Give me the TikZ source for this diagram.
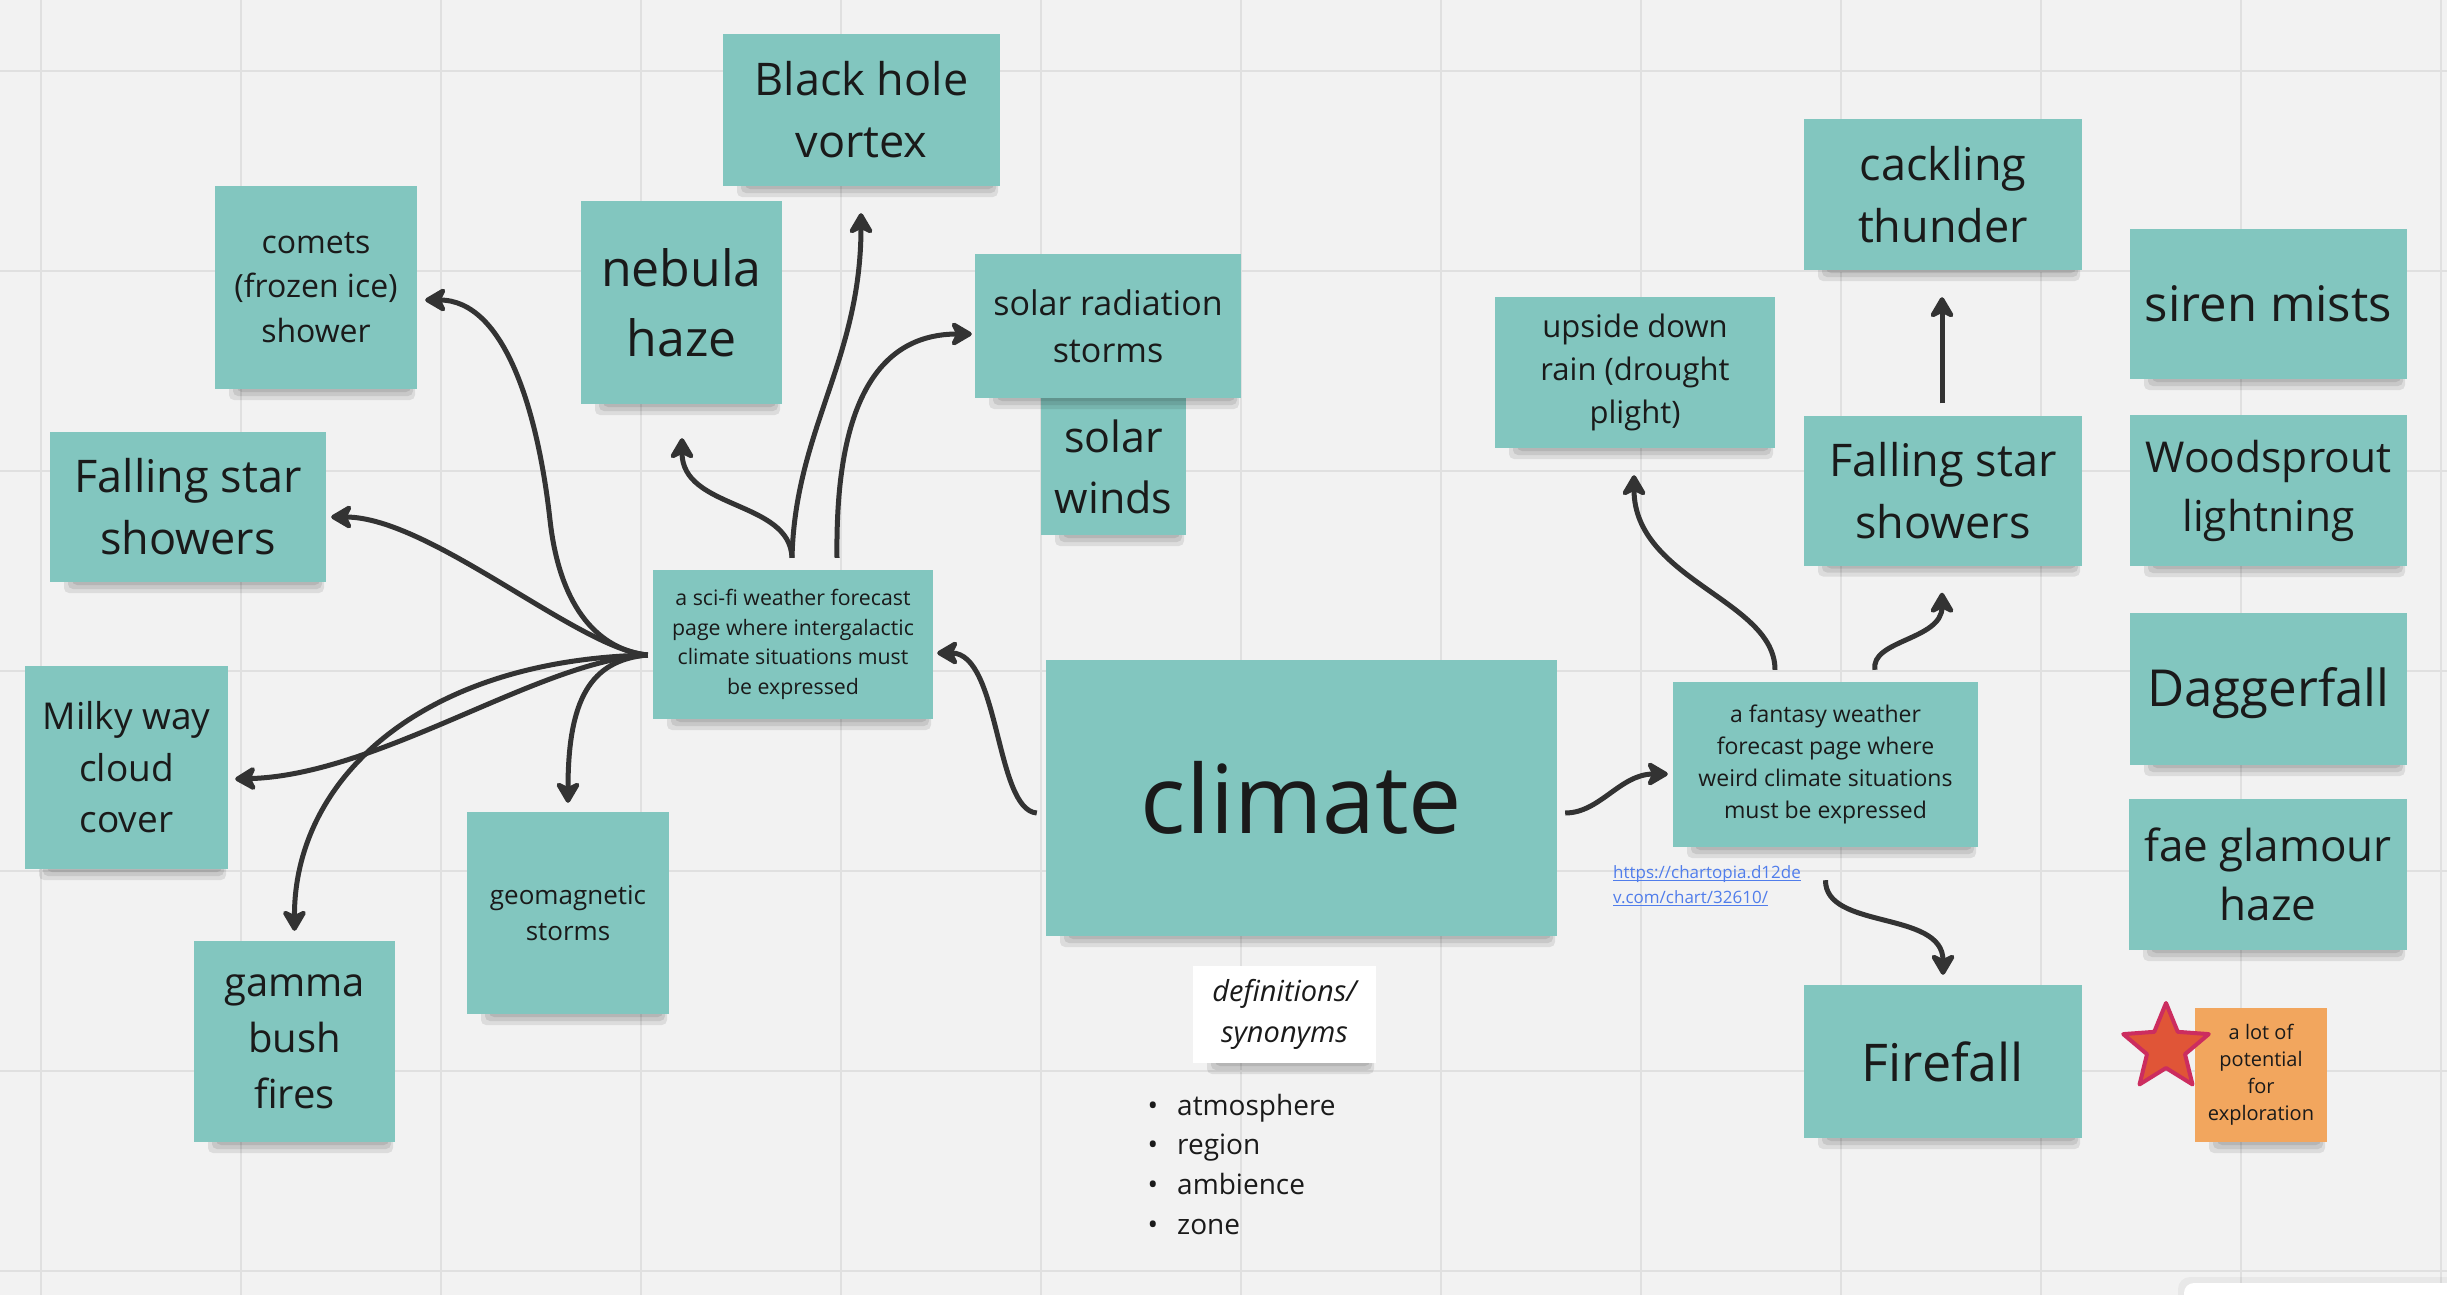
\documentclass[tikz,border=0pt]{standalone}
\usepackage{fontspec}
\setmainfont{Open Sans}
\usetikzlibrary{arrows.meta,calc}
\definecolor{bg}{RGB}{242,242,242}
\definecolor{gridc}{RGB}{224,224,224}
\definecolor{notecol}{RGB}{130,198,191}
\definecolor{orangecol}{RGB}{242,166,94}
\definecolor{txt}{RGB}{26,26,26}
\definecolor{arrowc}{RGB}{51,51,51}
\definecolor{linkc}{RGB}{80,125,235}
\definecolor{starfill}{RGB}{224,85,55}
\definecolor{starline}{RGB}{204,45,95}
\newcommand\noteshadow[4]{%
  \foreach \k in {0,1,2}{%
    \fill[black,opacity=0.09,rounded corners=5pt] ({#1-#3/2+14+4*\k},{#2+#4/2-10}) rectangle ({#1+#3/2-2-2*\k},{#2+#4/2+11-4*\k});
  }%
}
\newcommand\mynote[9][notecol]{%
  \noteshadow{#3}{#4}{#5}{#6}%
  \node[note,fill=#1,minimum width=#5pt,minimum height=#6pt,font=\fontsize{#7pt}{#8pt}\selectfont] (#2) at (#3,#4) {#9};%
}
\newcommand\myul[1]{{\setbox0\hbox{#1}\rlap{\rule[-3pt]{\wd0}{1.4pt}}\box0}}
\tikzset{
  note/.style={text=txt, inner sep=0pt, align=center},
  arr/.style={draw=arrowc, line width=5pt, -{Stealth[length=25pt,width=29pt,inset=7pt,round]}},
  listtxt/.style={anchor=base west, inner sep=0pt, text=txt, font=\fontsize{28pt}{40pt}\selectfont},
  linktxt/.style={anchor=base west, inner sep=0pt, text=linkc, font=\fontsize{17pt}{25pt}\selectfont},
}
\begin{document}
\begin{tikzpicture}[x=1pt,y=-1pt]
\useasboundingbox (0,0) rectangle (2447,1295);
\clip (0,0) rectangle (2447,1295);
\fill[bg] (0,0) rectangle (2447,1295);
\foreach \x in {41,241,...,2441} \draw[gridc,line width=2pt] (\x,0) -- (\x,1295);
\foreach \y in {71,271,...,1271} \draw[gridc,line width=2pt] (0,\y) -- (2447,\y);
\fill[black,opacity=0.04,rounded corners=12pt] (2178,1277) rectangle (2470,1320);
\fill[white,rounded corners=10pt] (2184,1283) rectangle (2470,1320);

% left side notes
\mynote{blackhole}{861.5}{110}{277}{152}{45}{62}{Black hole\\vortex}
\mynote{nebula}{681.5}{302.5}{201}{203}{50}{70}{nebula\\haze}
\mynote{comets}{316}{287.5}{202}{203}{32}{44.5}{comets\\(frozen ice)\\shower}
\mynote{solarwinds}{1113.5}{466.5}{145}{137}{43}{61}{solar\\winds}
\mynote{solarrad}{1108}{326}{266}{144}{34}{47}{solar radiation\\storms}
\mynote{fallingL}{188}{507}{276}{150}{45}{62}{Falling star\\showers}
\mynote{scifi}{793}{644.5}{280}{149}{21.3}{29.6}{a sci-fi weather forecast\\page where intergalactic\\climate situations must\\be expressed}
\mynote{milky}{126.5}{767.5}{203}{203}{37}{51.5}{Milky way\\cloud\\cover}
\mynote{geomag}{568}{913}{202}{202}{26}{36}{geomagnetic\\storms}
\mynote{gamma}{294.5}{1041.5}{201}{201}{40}{56}{gamma\\bush\\fires}

% centre
\mynote{climate}{1301.5}{798}{511}{276}{95}{110}{climate}
\mynote[white]{defs}{1284.5}{1014.5}{183}{97}{29}{41}{\itshape definitions/\\\itshape synonyms}
\node[listtxt] (l1) at (1177,1115) {\llap{•\hspace{19pt}}atmosphere};
\node[listtxt] (l2) at (1177,1154) {\llap{•\hspace{19pt}}region};
\node[listtxt] (l3) at (1177,1194) {\llap{•\hspace{19pt}}ambience};
\node[listtxt] (l4) at (1177,1234) {\llap{•\hspace{19pt}}zone};

% right side notes
\mynote{upside}{1635}{372.5}{280}{151}{31}{43}{upside down\\rain (drought\\plight)}
\mynote{cackling}{1943}{194.5}{278}{151}{45}{62}{cackling\\thunder}
\mynote{fallingR}{1943}{490.5}{278}{150}{45}{62}{Falling star\\showers}
\mynote{fantasy}{1825.5}{764.5}{305}{165}{23}{31.8}{a fantasy weather\\forecast page where\\weird climate situations\\must be expressed}
\mynote{siren}{2268.5}{304}{277}{150}{49}{62}{siren mists}
\mynote{wood}{2268.5}{490.5}{277}{151}{42.5}{59}{Woodsprout\\lightning}
\noteshadow{2268.5}{689}{277}{152}%
\node[note,fill=notecol,minimum width=277pt,minimum height=152pt] (dagger) at (2268.5,689) {};
\node[note,font=\fontsize{51pt}{62pt}\selectfont] (daggertext) at ($(dagger.center)+(0,4)$) {Daggerfall};
\mynote{fae}{2268}{874.5}{278}{151}{44}{59}{fae glamour\\haze}
\mynote{firefall}{1943}{1061.5}{278}{153}{52}{62}{Firefall}
\mynote[orangecol]{orange}{2261}{1075}{132}{134}{20}{27}{a lot of\\potential\\for\\exploration}
\filldraw[fill=starfill,draw=starline,line width=4pt,line join=round]
  (2166,1048) +(-90:45) -- +(-54:20) -- +(-18:45) -- +(18:20) -- +(54:45) -- +(90:20) -- +(126:45) -- +(162:20) -- +(198:45) -- +(234:20) -- cycle;

\node[linktxt] (link1) at (1613,878) {\myul{https://chartopia.d12de}};
\node[linktxt] (link2) at (1613,903) {\myul{v.com/chart/32610/}};

% connectors
\coordinate (hub) at ($(scifi.west)+(-5,10.5)$);
\draw[arr] (hub) .. controls (600,650) and (560,610) .. (550,520) .. controls (538,412) and (505,300) .. ($(comets.east)+(8,12.5)$);
\draw[arr] (hub) .. controls (580,650) and (430,517) .. ($(fallingL.east)+(5,10)$);
\draw[arr] (hub) .. controls (540,660) and (380,775) .. ($(milky.east)+(7,11.5)$);
\draw[arr] (hub) .. controls (420,660) and (294,780) .. ($(gamma.north)+(0,-10)$);
\draw[arr] (hub) .. controls (590,660) and (568,700) .. ($(geomag.north)+(0,-9)$);
\draw[arr] ($(scifi.north)+(-1,-12)$) .. controls (790,500) and (682,510) .. ($(nebula.south)+(0.5,34)$);
\draw[arr] ($(scifi.north)+(-1,-12)$) .. controls (795,430) and (861,360) .. ($(blackhole.south)+(-0.5,27)$);
\draw[arr] ($(scifi.north)+(44,-12)$) .. controls (835,400) and (880,334) .. ($(solarrad.west)+(-3,8)$);
\draw[arr] ($(climate.west)+(-9,15)$) .. controls (995,810) and (1000,653) .. ($(scifi.east)+(4,8.5)$);
\draw[arr] ($(climate.east)+(8,15)$) .. controls (1600,813) and (1620,774) .. ($(fantasy.west)+(-5,9.5)$);
\draw[arr] ($(fantasy.north)+(-50.5,-12)$) .. controls (1775,600) and (1634,580) .. ($(upside.south)+(-1,27)$);
\draw[arr] ($(fantasy.north)+(49.5,-12)$) .. controls (1870,640) and (1942,640) .. ($(fallingR.south)+(-1,27)$);
\draw[arr] ($(fallingR.north)+(-1,-12)$) -- ($(cackling.south)+(-1,27)$);
\draw[arr] ($(fantasy.south)+(0,33)$) .. controls (1825,930) and (1943,910) .. ($(firefall.north)+(0,-10)$);
\end{tikzpicture}
\end{document}
